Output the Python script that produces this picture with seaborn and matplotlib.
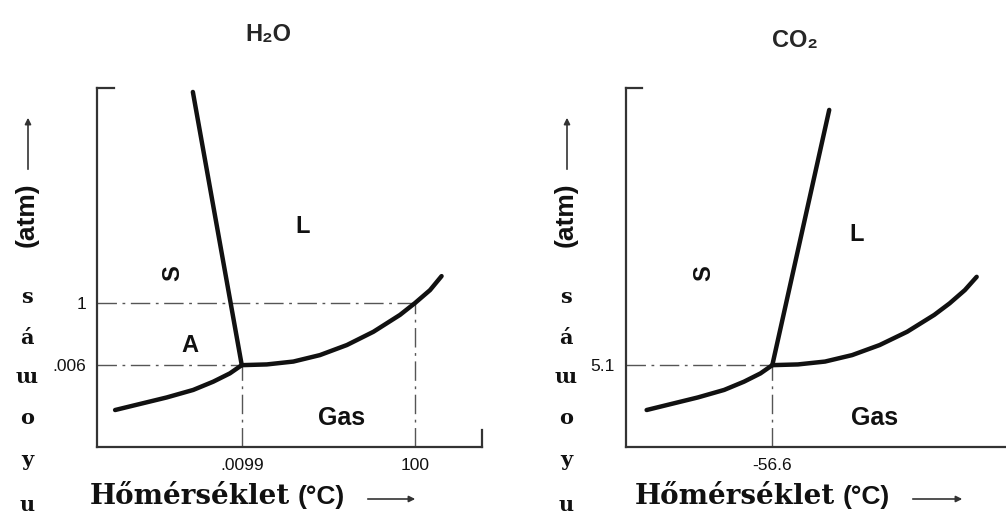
import matplotlib
matplotlib.use("Agg")
import matplotlib.pyplot as plt
import seaborn as sns

# ---------------- data (schematic units, 0-100 on each axis) ----------------
titles = ["H₂O", "CO₂"]

h2o_sub_T = [4.7, 11.2, 18.1, 25.0, 30.2, 34.5, 37.6]
h2o_sub_P = [10.3, 12.0, 13.8, 15.9, 18.2, 20.5, 22.8]
h2o_melt_T = [37.6, 24.9]
h2o_melt_P = [22.8, 98.9]
h2o_vap_T = [37.6, 44.1, 51.0, 57.9, 64.9, 71.8, 78.7, 82.6, 86.5, 89.5]
h2o_vap_P = [22.8, 23.0, 23.8, 25.6, 28.4, 32.1, 36.8, 40.1, 43.7, 47.6]
h2o_guide_T = [37.6, 82.6]
h2o_guide_P = [22.8, 40.1]
h2o_xtick_labels = [".0099", "100"]
h2o_ytick_labels = [".006", "1"]
h2o_regions = ["S", "L", "A", "Gas"]
h2o_region_T = [19.7, 53.5, 24.2, 63.6]
h2o_region_P = [48.5, 61.3, 28.4, 8.1]

co2_sub_T = [5.4, 11.9, 18.8, 25.7, 30.9, 35.2, 38.3]
co2_sub_P = [10.3, 12.0, 13.8, 15.9, 18.2, 20.5, 22.8]
co2_melt_T = [38.3, 53.2]
co2_melt_P = [22.8, 93.9]
co2_vap_T = [38.3, 45.0, 52.1, 59.2, 66.4, 73.6, 80.7, 84.7, 88.7, 91.8]
co2_vap_P = [22.8, 23.0, 23.8, 25.6, 28.4, 32.1, 36.8, 40.0, 43.7, 47.4]
co2_guide_T = [38.3]
co2_guide_P = [22.8]
co2_xtick_labels = ["-56.6"]
co2_ytick_labels = ["5.1"]
co2_regions = ["S", "L", "Gas"]
co2_region_T = [20.3, 60.3, 65.0]
co2_region_P = [48.5, 59.1, 8.1]

ylabel_letters = ["s", "á", "ɯ", "o", "y", "u"]
xlabel_word = "Hőmérséklet"
xlabel_unit = "(°C)"
ylabel_unit = "(atm)"

# ---------------- styling ----------------
sns.set_theme(style="white")
plt.rcParams["font.family"] = ["Liberation Sans", "DejaVu Sans"]

W, H = 1006, 525
fig = plt.figure(figsize=(W / 100, H / 100), dpi=100)


def fx(px):
    return px / W


def fy(py):
    return 1 - py / H


ax_boxes = [[fx(97), fy(447), 385 / W, 359 / H],
            [fx(626), fy(447), 382 / W, 359 / H]]

panels = [
    dict(sub=(h2o_sub_T, h2o_sub_P), melt=(h2o_melt_T, h2o_melt_P),
         vap=(h2o_vap_T, h2o_vap_P), guide=(h2o_guide_T, h2o_guide_P),
         xt=h2o_xtick_labels, yt=h2o_ytick_labels,
         reg=(h2o_regions, h2o_region_T, h2o_region_P), right_tick=True),
    dict(sub=(co2_sub_T, co2_sub_P), melt=(co2_melt_T, co2_melt_P),
         vap=(co2_vap_T, co2_vap_P), guide=(co2_guide_T, co2_guide_P),
         xt=co2_xtick_labels, yt=co2_ytick_labels,
         reg=(co2_regions, co2_region_T, co2_region_P), right_tick=False),
]

curve_color = "#111111"
guide_color = "#555555"
spine_color = "#333333"

for i, (box, p) in enumerate(zip(ax_boxes, panels)):
    ax = fig.add_axes(box)
    ax.set_xlim(0, 100)
    ax.set_ylim(0, 100)
    ax.set_facecolor("none")

    # guide lines (dash-dot)
    gT, gP = p["guide"]
    for t, pr in zip(gT, gP):
        ax.hlines(pr, 0, t, colors=guide_color, lw=1.0,
                  linestyles=(0, (14, 4, 2, 4)), zorder=1)
        ax.vlines(t, 0, pr, colors=guide_color, lw=1.0,
                  linestyles=(0, (14, 4, 2, 4)), zorder=1)

    for key in ("sub", "melt", "vap"):
        xs, ys = p[key]
        sns.lineplot(x=xs, y=ys, ax=ax, color=curve_color, lw=3.2,
                     sort=False, estimator=None, zorder=3,
                     solid_joinstyle="round", solid_capstyle="round")

    names, rT, rP = p["reg"]
    for n, t, pr in zip(names, rT, rP):
        ax.text(t, pr, n, ha="center", va="center",
                fontsize=18 if n == "Gas" else 17,
                fontweight="bold", color="#111111",
                rotation=90 if n == "S" else 0)

    ax.set_xticks(gT)
    ax.set_xticklabels(p["xt"], fontsize=12.5, color="#111111")
    ax.set_yticks(gP)
    ax.set_yticklabels(p["yt"], fontsize=12.5, color="#111111")
    ax.tick_params(axis="both", length=0, pad=8)

    for s in ("left", "bottom"):
        ax.spines[s].set_color(spine_color)
        ax.spines[s].set_linewidth(1.6)
    ax.spines["top"].set_color(spine_color)
    ax.spines["top"].set_linewidth(1.6)
    ax.spines["top"].set_bounds(0, 4.3)
    if p["right_tick"]:
        ax.spines["right"].set_color(spine_color)
        ax.spines["right"].set_linewidth(1.6)
        ax.spines["right"].set_bounds(0, 4.6)
    else:
        ax.spines["right"].set_visible(False)
    ax.grid(False)

# titles
fig.text(fx(268), fy(34), titles[0], ha="center", va="center",
         fontsize=17, fontweight="bold")
fig.text(fx(795), fy(40), titles[1], ha="center", va="center",
         fontsize=17, fontweight="bold")

# y labels
for cx in (27, 566):
    fig.text(fx(cx), fy(215), ylabel_unit, rotation=90, ha="center",
             va="center", fontsize=19, fontweight="bold", color="#111111")
    fig.patches.append(matplotlib.patches.FancyArrowPatch(
        (fx(cx + 1), fy(172)), (fx(cx + 1), fy(115)),
        transform=fig.transFigure, arrowstyle="-|>", mutation_scale=9,
        lw=1.2, color="#333333"))
    for letter, py in zip(ylabel_letters, [297, 338, 377, 418, 460, 505]):
        fig.text(fx(cx), fy(py), letter, ha="center", va="center",
                 fontsize=15, fontweight="bold",
                 family=["DejaVu Serif", "DejaVu Sans"], color="#111111")

# x labels
for x0, xu, a0, a1 in ((90, 298, 365, 418), (635, 843, 910, 965)):
    fig.text(fx(x0), fy(496), xlabel_word, ha="left", va="center",
             fontsize=20, fontweight="bold", family=["DejaVu Serif"],
             color="#111111")
    fig.text(fx(xu), fy(497), xlabel_unit, ha="left", va="center",
             fontsize=19, fontweight="bold", color="#111111")
    fig.patches.append(matplotlib.patches.FancyArrowPatch(
        (fx(a0), fy(499)), (fx(a1), fy(499)),
        transform=fig.transFigure, arrowstyle="-|>", mutation_scale=9,
        lw=1.2, color="#333333"))

fig.savefig("out.png", dpi=100)
